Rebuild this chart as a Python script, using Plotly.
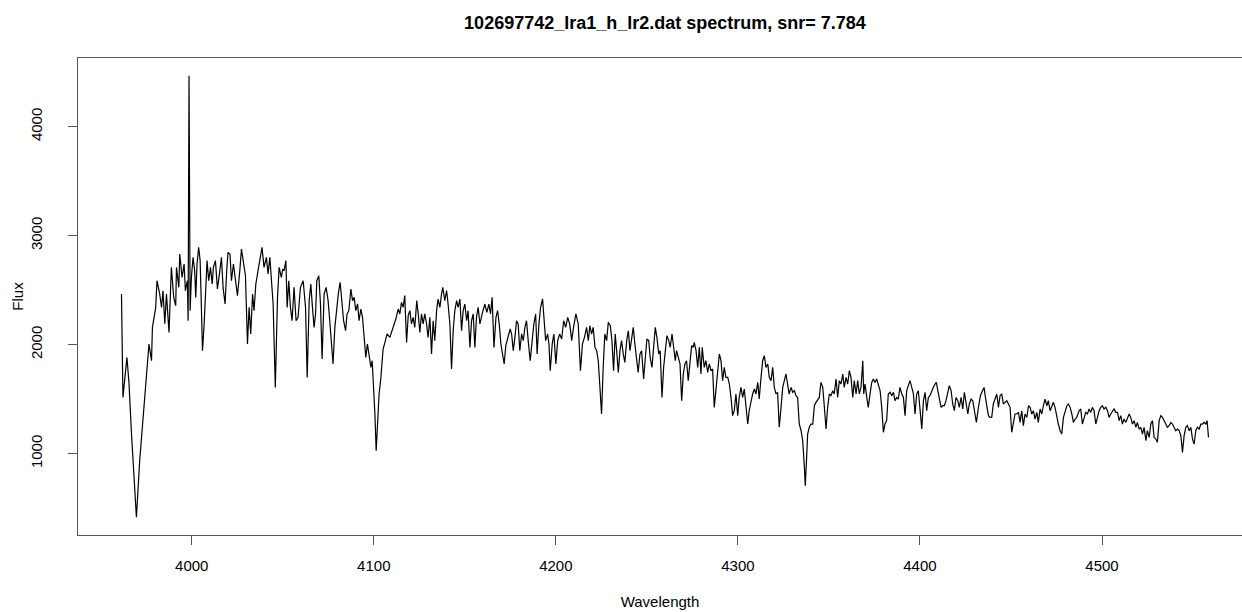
import plotly.graph_objects as go

# ---- data (wavelength in Angstrom, flux) ----
wl_a = [3961.4, 3962.2, 3964.4, 3965.5, 3966.9, 3969.6, 3971.4, 3974.2, 3974.7, 3976.5,
        3977.9, 3978.4, 3980.2, 3980.9, 3982.4, 3983.4, 3984.2, 3985.2, 3986.1, 3987.5,
        3988.8, 3990.1, 3991.2]
flux_a = [2465, 1516, 1883, 1654, 1183, 416, 936, 1516, 1608, 2006,
          1853, 2159, 2342, 2587, 2465, 2342, 2495, 2193, 2465, 2113,
          2709, 2434, 2358]

wl_b = [3991.6, 3992.9, 3993.4, 3994.7, 3995.8, 3996.5, 3997.6, 3998.0, 3998.5, 3999.1,
        3999.8, 4000.7, 4001.6, 4002.2, 4002.9, 4003.8, 4004.6, 4005.3, 4005.9, 4006.8,
        4007.5, 4008.4, 4009.3, 4010.3, 4011.2, 4011.9, 4013.0, 4014.1, 4015.2, 4016.3,
        4017.2, 4018.3, 4019.2, 4019.9, 4021.0, 4021.8, 4022.9, 4024.0, 4025.1, 4026.4,
        4027.3, 4028.4, 4029.5, 4030.6, 4031.5, 4032.4, 4033.4, 4034.2, 4035.2, 4036.4,
        4037.8, 4038.6, 4039.7, 4041.0, 4041.9, 4042.9, 4043.8, 4044.7, 4045.9, 4047.1,
        4048.0, 4049.2, 4050.0]
flux_b = [2709, 2526, 2832, 2617, 2740, 2495, 2587, 2220, 4468, 2312,
          2617, 2801, 2679, 2434, 2740, 2893, 2771, 2342, 1945, 2190,
          2404, 2771, 2587, 2709, 2557, 2709, 2771, 2511, 2649, 2801,
          2526, 2373, 2679, 2847, 2832, 2587, 2740, 2587, 2450, 2679,
          2878, 2755, 2633, 2006, 2342, 2098, 2465, 2312, 2557, 2679,
          2801, 2893, 2709, 2801, 2649, 2801, 2587, 2373, 1608, 2434,
          2709, 2617, 2694]

wl_c = [4050.7, 4051.7, 4052.4, 4053.3, 4054.2, 4055.1, 4056.2, 4057.3, 4058.4, 4059.7,
        4061.2, 4062.5, 4063.4, 4064.5, 4065.4, 4066.3, 4067.2, 4068.0, 4068.7, 4069.8,
        4070.7, 4071.6, 4072.7, 4073.8, 4074.9, 4075.8, 4076.8, 4077.6, 4078.6, 4079.7,
        4080.6, 4081.5, 4082.4, 4083.4, 4084.5, 4085.3, 4086.3, 4087.4, 4088.3, 4089.2,
        4090.1, 4091.1, 4091.9, 4092.9, 4093.8, 4094.7, 4095.6, 4096.5, 4097.4, 4098.4,
        4099.1, 4099.8, 4100.6, 4101.3, 4102.0, 4102.9, 4103.9, 4105.1]
flux_c = [2679, 2771, 2342, 2587, 2342, 2220, 2526, 2220, 2251, 2526,
          2587, 2342, 1700, 2404, 2557, 2342, 2159, 2282, 2587, 2633,
          2373, 1869, 2465, 2526, 2404, 2220, 2037, 1823, 2159, 2342,
          2480, 2572, 2404, 2220, 2128, 2282, 2312, 2511, 2404, 2434,
          2312, 2373, 2220, 2327, 2251, 2067, 1883, 2006, 1883, 1792,
          1853, 1639, 1364, 1028, 1303, 1548, 1700, 1960]

wl_d = [4106.1, 4107.3, 4108.8, 4110.1, 4111.2, 4112.1, 4113.4, 4114.3, 4115.2, 4116.1,
        4117.0, 4118.0, 4118.9, 4119.8, 4120.7, 4121.6, 4122.5, 4123.6, 4124.4, 4125.3,
        4126.2, 4127.1, 4128.0, 4129.0, 4129.8, 4130.8, 4131.7, 4132.6, 4133.5, 4134.5,
        4135.3, 4136.3, 4137.2, 4137.9, 4139.0, 4140.0, 4140.8, 4141.8, 4142.7, 4143.6,
        4144.5, 4145.5, 4146.3, 4147.3, 4148.2, 4149.1, 4150.0, 4151.0, 4151.8, 4152.8,
        4153.7, 4154.6, 4155.5, 4156.4, 4157.3, 4158.3, 4159.5]
flux_d = [2021, 2098, 2067, 2128, 2174, 2235, 2327, 2282, 2388, 2342,
          2450, 2021, 2266, 2312, 2190, 2251, 2159, 2404, 2282, 2113,
          2282, 2190, 2282, 2190, 2067, 2251, 1915, 2220, 2037, 2312,
          2419, 2342, 2465, 2526, 2404, 2495, 2373, 2190, 1777, 2128,
          2312, 2404, 2342, 2419, 2128, 2312, 2373, 2220, 2312, 1975,
          2220, 2282, 1975, 2251, 2342, 2190, 2282]

wl_e = [4161.0, 4162.1, 4163.2, 4164.1, 4165.0, 4166.0, 4167.1, 4168.0, 4168.9, 4169.8,
        4170.7, 4171.6, 4172.5, 4173.8, 4174.9, 4175.7, 4176.6, 4177.5, 4178.4, 4179.3,
        4180.2, 4181.2, 4182.1, 4183.0, 4183.9, 4184.8, 4185.9, 4187.0, 4187.9, 4188.9,
        4189.7, 4190.7, 4191.6, 4192.7, 4193.6, 4194.4, 4195.5, 4196.2, 4196.9, 4198.0,
        4198.9, 4200.0, 4201.0, 4202.1, 4203.2, 4204.3, 4205.4, 4206.5, 4207.6, 4208.7,
        4209.7, 4211.0, 4212.3, 4213.5, 4214.6, 4215.7]
flux_e = [2373, 2296, 2373, 2282, 2434, 1975, 2251, 2312, 2190, 2006,
          1915, 1823, 1991, 2067, 2144, 2098, 1945, 2067, 2220, 2190,
          1945, 2098, 2037, 2159, 2220, 2037, 1853, 2037, 2190, 2282,
          1915, 2190, 2342, 2419, 2220, 2037, 2098, 2006, 1761, 2006,
          2098, 1823, 2037, 2098, 2052, 2220, 2159, 2251, 2190, 2037,
          2159, 2282, 2190, 1761, 2006, 2067]

wl_f = [4216.9, 4217.8, 4218.7, 4219.6, 4220.5, 4221.5, 4222.4, 4223.3, 4224.2, 4225.1,
        4226.0, 4226.9, 4227.9, 4228.8, 4229.9, 4230.8, 4231.7, 4232.6, 4233.4, 4234.3,
        4235.2, 4236.1, 4237.0, 4237.9, 4238.9, 4239.8, 4240.7, 4241.6, 4242.5, 4243.4,
        4244.4, 4245.2, 4246.2, 4247.1, 4248.2, 4249.1, 4250.0, 4251.0, 4251.8, 4252.8,
        4253.7, 4254.6, 4255.5, 4256.5, 4257.3, 4258.3, 4259.2, 4260.1, 4261.0, 4262.0,
        4262.8, 4263.8, 4264.7, 4265.6, 4266.3, 4267.2, 4268.2, 4269.1, 4270.0]
flux_f = [2159, 2037, 2174, 2098, 2159, 1975, 1945, 1853, 1608, 1364,
          1792, 2098, 2037, 2205, 2174, 2037, 1761, 2098, 1945, 1746,
          1945, 2037, 1915, 1838, 2037, 2128, 1945, 2067, 2159, 2006,
          1853, 1746, 1915, 1945, 1685, 1883, 2052, 2037, 1883, 1792,
          1945, 2159, 2067, 1915, 1945, 1516, 1792, 1945, 2083, 2037,
          1975, 2098, 1945, 1853, 1945, 1883, 1823, 1486, 1731]

wl_g = [4270.9, 4271.8, 4272.7, 4273.7, 4274.6, 4275.5, 4276.0, 4277.0, 4277.9, 4278.8,
        4279.7, 4280.4, 4281.5, 4282.4, 4283.4, 4284.3, 4285.2, 4286.1, 4287.0, 4287.9,
        4288.9, 4289.8, 4290.7, 4291.6, 4292.5, 4293.4, 4294.4, 4295.3, 4296.2, 4297.1,
        4298.0, 4298.9, 4299.9, 4300.7, 4301.7, 4302.6, 4303.5, 4304.4, 4305.4, 4306.2,
        4307.2, 4308.1, 4309.0, 4309.9, 4310.9, 4311.7, 4312.7, 4313.6, 4314.5, 4315.4,
        4316.4, 4317.2, 4318.2, 4319.1, 4320.0, 4320.9, 4321.8, 4322.7, 4323.7, 4324.6]
flux_g = [1823, 1853, 1670, 1883, 1991, 1975, 2021, 1945, 1792, 1975,
          1731, 1975, 1792, 1853, 1746, 1823, 1761, 1777, 1425, 1578,
          1731, 1915, 1853, 1670, 1792, 1700, 1700, 1639, 1516, 1349,
          1394, 1548, 1349, 1516, 1608, 1516, 1593, 1425, 1272, 1394,
          1486, 1548, 1593, 1548, 1654, 1501, 1700, 1853, 1899, 1792,
          1823, 1700, 1670, 1792, 1608, 1548, 1563, 1242, 1425, 1608]

wl_h = [4325.5, 4326.4, 4327.3, 4328.1, 4329.2, 4330.1, 4331.0, 4331.9, 4332.8, 4333.7,
        4334.7, 4335.6, 4336.5, 4337.0, 4337.7, 4338.3, 4339.2, 4340.1, 4341.1, 4342.0,
        4342.9, 4343.8, 4344.7, 4345.6, 4346.6, 4347.5, 4348.4, 4349.3, 4350.2, 4351.1,
        4352.1, 4352.9, 4353.9, 4354.8, 4355.7, 4356.6, 4357.6, 4358.4, 4359.4, 4360.3,
        4361.2, 4362.1, 4363.1, 4363.9, 4364.9, 4365.8, 4366.7, 4367.6, 4368.6, 4369.1,
        4369.8, 4370.8, 4371.6, 4372.6, 4373.5, 4374.4, 4375.3, 4376.2, 4377.1, 4378.1,
        4379.0, 4379.9]
flux_h = [1670, 1731, 1639, 1548, 1608, 1563, 1578, 1532, 1516, 1272,
          1211, 1119, 880, 706, 950, 1180, 1242, 1272, 1272, 1440,
          1471, 1501, 1516, 1654, 1608, 1425, 1226, 1425, 1548, 1532,
          1578, 1548, 1685, 1516, 1670, 1639, 1731, 1608, 1700, 1639,
          1761, 1700, 1516, 1670, 1548, 1670, 1548, 1608, 1853, 1548,
          1639, 1516, 1425, 1548, 1654, 1685, 1654, 1685, 1639, 1578,
          1425, 1196]

wl_i = [4380.8, 4381.7, 4382.6, 4383.6, 4384.5, 4385.4, 4386.3, 4387.2, 4388.1, 4389.0,
        4390.0, 4390.9, 4391.8, 4392.7, 4393.6, 4394.5, 4395.5, 4396.4, 4397.3, 4398.2,
        4399.1, 4400.0, 4401.0, 4401.9, 4402.8, 4403.7, 4404.6, 4405.5, 4406.5, 4407.3,
        4408.3, 4409.0, 4409.8, 4410.6, 4411.6, 4412.5, 4413.4, 4414.3, 4415.3, 4416.1,
        4417.1, 4418.0, 4418.9, 4419.8, 4420.8, 4421.6, 4422.6, 4423.5, 4424.4, 4425.3,
        4426.3, 4427.1, 4428.1, 4429.0, 4429.9, 4431.0, 4432.1, 4433.2, 4434.3, 4435.2]
flux_i = [1272, 1303, 1548, 1563, 1532, 1563, 1486, 1516, 1501, 1608,
          1548, 1516, 1349, 1578, 1624, 1670, 1608, 1548, 1364, 1548,
          1578, 1394, 1226, 1486, 1563, 1394, 1516, 1532, 1578, 1608,
          1639, 1654, 1578, 1516, 1425, 1440, 1440, 1486, 1578, 1624,
          1578, 1456, 1394, 1516, 1486, 1425, 1516, 1410, 1563, 1486,
          1364, 1456, 1501, 1486, 1394, 1287, 1425, 1532, 1578, 1608]

wl_j = [4435.8, 4436.7, 4437.6, 4438.5, 4439.4, 4440.3, 4441.3, 4442.2, 4443.1, 4444.0,
        4444.9, 4445.8, 4446.7, 4447.7, 4448.6, 4449.5, 4450.4, 4451.3, 4452.2, 4453.2,
        4454.1, 4455.0, 4455.9, 4456.8, 4457.7, 4458.7, 4459.6, 4460.5, 4461.4, 4462.3,
        4463.2, 4464.2, 4465.0, 4466.0, 4466.9, 4467.8, 4468.7, 4469.7, 4470.5, 4471.5,
        4472.4, 4473.3, 4474.2, 4475.2, 4476.0, 4477.0, 4477.9, 4478.8, 4479.7, 4480.7,
        4481.5, 4482.5, 4483.4, 4484.3, 4485.2]
flux_j = [1532, 1456, 1349, 1333, 1333, 1456, 1516, 1548, 1425, 1532,
          1548, 1456, 1471, 1486, 1456, 1425, 1196, 1303, 1364, 1364,
          1379, 1287, 1394, 1257, 1364, 1333, 1440, 1425, 1364, 1394,
          1318, 1379, 1287, 1410, 1364, 1440, 1501, 1440, 1486, 1394,
          1425, 1471, 1425, 1333, 1272, 1211, 1180, 1333, 1394, 1440,
          1456, 1425, 1364, 1287, 1318]

wl_k = [4486.1, 4487.4, 4488.3, 4489.2, 4490.2, 4491.1, 4492.0, 4492.9, 4493.8, 4494.7,
        4495.6, 4496.6, 4497.5, 4498.4, 4499.3, 4500.2, 4501.1, 4502.1, 4503.0, 4503.9,
        4504.8, 4505.7, 4506.6, 4507.6, 4508.5, 4509.4, 4510.3, 4511.2, 4512.1, 4513.1,
        4514.0, 4514.9, 4515.8, 4516.7, 4517.6, 4518.6, 4519.4, 4520.4, 4521.3, 4522.2,
        4523.1, 4524.1, 4524.9, 4525.9, 4526.8, 4527.7, 4528.6, 4529.6, 4530.4, 4531.4,
        4532.3, 4533.2, 4534.1, 4535.1, 4535.9, 4536.9, 4537.8, 4538.7, 4539.6, 4540.5,
        4541.4, 4542.4, 4543.3, 4544.2, 4545.1, 4546.0, 4546.9, 4547.9, 4548.8, 4549.7,
        4550.6, 4551.5, 4552.4, 4553.4, 4554.3, 4555.2, 4556.1, 4557.0, 4557.7, 4558.5]
flux_k = [1333, 1394, 1410, 1272, 1333, 1379, 1364, 1410, 1379, 1425,
          1394, 1272, 1333, 1394, 1425, 1440, 1410, 1425, 1394, 1333,
          1364, 1394, 1410, 1379, 1379, 1303, 1349, 1272, 1318, 1287,
          1333, 1364, 1333, 1272, 1303, 1242, 1287, 1226, 1242, 1180,
          1242, 1119, 1211, 1150, 1272, 1303, 1150, 1134, 1104, 1303,
          1349, 1333, 1303, 1272, 1242, 1257, 1287, 1272, 1242, 1211,
          1226, 1211, 1165, 1012, 1165, 1242, 1257, 1211, 1242, 1134,
          1089, 1211, 1242, 1226, 1272, 1272, 1287, 1272, 1303, 1150]

x_ticks = [4000, 4100, 4200, 4300, 4400, 4500]
y_ticks = [1000, 2000, 3000, 4000]
title_text = "102697742_lra1_h_lr2.dat spectrum, snr= 7.784"

wavelength = wl_a + wl_b + wl_c + wl_d + wl_e + wl_f + wl_g + wl_h + wl_i + wl_j + wl_k
flux = (flux_a + flux_b + flux_c + flux_d + flux_e + flux_f + flux_g + flux_h
        + flux_i + flux_j + flux_k)

# ---- layout geometry (R style 4% padding; right part of the R frame is cropped) ----
W, H = 1242, 612
L, T, B = 78, 58, 77
full_right = 1252  # where R's plot frame would end (beyond the picture)
xs = max(wavelength) - min(wavelength)
x_lo = min(wavelength) - 0.04 * xs
x_hi_full = max(wavelength) + 0.04 * xs
x_hi = x_lo + (x_hi_full - x_lo) * (W - L) / (full_right - L)
ys = max(flux) - min(flux)
y_lo = min(flux) - 0.04 * ys
y_hi = max(flux) + 0.04 * ys

font_family = "Liberation Sans, Arial, Helvetica, sans-serif"
axis_col = "#555555"

fig = go.Figure(go.Scatter(
    x=wavelength, y=flux, mode="lines",
    line=dict(color="black", width=1.2),
    hoverinfo="skip", showlegend=False,
))

fig.update_layout(
    width=W, height=H,
    margin=dict(l=L, r=0, t=T, b=B, pad=0),
    paper_bgcolor="white", plot_bgcolor="white",
    font=dict(family=font_family, size=15, color="black"),
    title=dict(text="<b>" + title_text + "</b>", font=dict(size=18, color="black"),
               x=(L + full_right) / 2 / W, xanchor="center", xref="container",
               y=1 - 23 / H, yanchor="middle", yref="container"),
    showlegend=False,
)
fig.update_xaxes(
    range=[x_lo, x_hi], tickvals=x_ticks, ticktext=[str(v) for v in x_ticks],
    ticks="outside", ticklen=9, tickwidth=1, tickcolor=axis_col,
    tickfont=dict(size=15),
    showline=True, linecolor=axis_col, linewidth=1, mirror=True,
    showgrid=False, zeroline=False,
    title=dict(text="Wavelength", standoff=23, font=dict(size=15)),
    ticklabelstandoff=8,
)
fig.update_yaxes(
    range=[y_lo, y_hi], tickvals=y_ticks, ticktext=[str(v) for v in y_ticks],
    tickangle=-90,
    ticks="outside", ticklen=9, tickwidth=1, tickcolor=axis_col,
    tickfont=dict(size=15),
    showline=True, linecolor=axis_col, linewidth=1, mirror=False,
    showgrid=False, zeroline=False,
    title=dict(text="Flux", standoff=0, font=dict(size=15)),
    ticklabelstandoff=20,
)

fig.write_html("out.html")
